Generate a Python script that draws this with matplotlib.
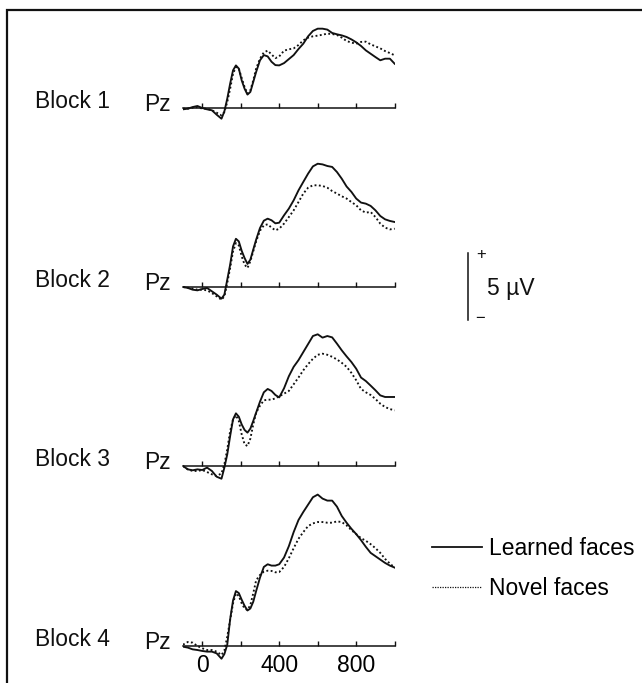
import matplotlib
matplotlib.use("Agg")
import matplotlib.pyplot as plt
from matplotlib.lines import Line2D
from matplotlib.patches import Rectangle
from matplotlib.transforms import blended_transform_factory

plt.rcParams['font.family'] = ['Liberation Sans', 'DejaVu Sans']

# ---------------- data (ms, µV) ----------------
time_ms = [-100, -75, -50, -25, 0, 25, 50, 75, 100,
           115, 130, 145, 160, 175, 190, 205, 220, 235, 250, 265, 280,
           300, 320, 340, 360, 380, 400,
           425, 450, 475, 500, 525, 550, 575, 600, 625, 650, 675, 700,
           725, 750, 775, 800, 825, 850, 875, 900, 925, 950, 975, 1000]

block_labels = ["Block 1", "Block 2", "Block 3", "Block 4"]
electrode = "Pz"
series_labels = ["Learned faces", "Novel faces"]

b1_learned = [-0.1, -0.05, 0.07, 0.15, 0.0, -0.1, -0.17, -0.5, -0.8,
              -0.25, 0.7, 1.82, 2.81, 3.18, 2.94, 2.06, 1.44, 1.0, 1.2, 1.94, 2.69,
              3.56, 3.95, 3.85, 3.45, 3.2, 3.18,
              3.35, 3.65, 3.95, 4.4, 4.8, 5.35, 5.75, 5.92, 5.92, 5.85, 5.6, 5.5,
              5.42, 5.3, 5.12, 4.9, 4.63, 4.3, 4.05, 3.8, 3.56, 3.68, 3.68, 3.3]
b1_novel = [-0.05, -0.05, 0.02, 0.07, -0.05, -0.05, -0.17, -0.35, -0.55,
            -0.3, 0.45, 1.44, 2.56, 3.06, 2.94, 2.24, 1.57, 1.07, 1.32, 2.06, 2.94,
            3.68, 4.15, 4.28, 4.0, 3.72, 3.85,
            4.28, 4.38, 4.45, 4.7, 5.05, 5.25, 5.35, 5.4, 5.47, 5.55, 5.52, 5.45,
            5.25, 5.0, 4.88, 4.8, 4.93, 4.95, 4.75, 4.6, 4.45, 4.25, 4.1, 3.93]

b2_learned = [0.0, -0.07, -0.2, -0.25, -0.15, -0.07, -0.32, -0.57, -0.87,
              -0.57, 0.55, 1.67, 3.03, 3.6, 3.4, 2.7, 2.16, 1.72, 2.04, 2.79, 3.53,
              4.4, 4.95, 5.1, 4.98, 4.75, 4.8,
              5.35, 5.85, 6.47, 7.21, 7.84, 8.46, 9.0, 9.2, 9.15, 9.03, 8.96, 8.58,
              8.08, 7.5, 7.1, 6.6, 6.3, 6.22, 6.05, 5.72, 5.3, 5.05, 4.93, 4.85]
b2_novel = [0.0, -0.05, -0.12, -0.2, -0.2, -0.25, -0.45, -0.7, -0.95,
            -0.7, 0.3, 1.42, 2.66, 3.28, 3.1, 2.29, 1.67, 1.42, 1.92, 2.66, 3.4,
            4.2, 4.6, 4.68, 4.43, 4.23, 4.35,
            4.73, 5.22, 5.72, 6.34, 6.97, 7.41, 7.59, 7.59, 7.54, 7.41, 7.16, 6.97,
            6.77, 6.6, 6.34, 6.1, 5.72, 5.55, 5.6, 5.22, 4.73, 4.43, 4.3, 4.35]

b3_learned = [0.0, -0.25, -0.32, -0.25, -0.3, -0.12, -0.37, -0.8, -0.95,
              -0.12, 0.87, 2.24, 3.48, 3.93, 3.68, 3.1, 2.69, 2.49, 2.79, 3.36, 3.98,
              4.8, 5.5, 5.75, 5.6, 5.3, 5.12,
              5.8, 6.7, 7.4, 7.9, 8.5, 9.1, 9.7, 9.83, 9.58, 9.7, 9.6, 9.13,
              8.63, 8.18, 7.76, 7.26, 6.6, 6.34, 6.0, 5.65, 5.27, 5.15, 5.15, 5.15]
b3_novel = [0.0, -0.25, -0.37, -0.37, -0.3, -0.45, -0.62, -0.75, -0.55,
            0.12, 1.24, 2.61, 3.48, 3.78, 3.36, 2.36, 1.62, 1.49, 2.04, 3.1, 3.98,
            4.5, 4.9, 4.95, 4.95, 5.05, 5.2,
            5.4, 5.6, 6.1, 6.6, 7.14, 7.6, 8.0, 8.3, 8.38, 8.3, 8.15, 7.95,
            7.7, 7.4, 6.95, 6.4, 5.75, 5.5, 5.3, 5.0, 4.65, 4.4, 4.25, 4.15]

b4_learned = [-0.05, -0.12, -0.25, -0.3, -0.37, -0.42, -0.42, -0.55, -0.95,
              -0.6, 0.1, 2.0, 3.4, 4.1, 3.95, 3.45, 3.0, 2.65, 2.8, 3.3, 4.1,
              5.1, 5.9, 6.1, 6.0, 6.0, 6.1,
              6.6, 7.45, 8.5, 9.4, 10.0, 10.55, 11.1, 11.3, 11.0, 10.85, 10.85, 10.4,
              9.7, 9.2, 8.75, 8.35, 7.9, 7.4, 6.95, 6.7, 6.45, 6.2, 6.0, 5.85]
b4_novel = [0.1, 0.3, 0.25, 0.0, -0.17, -0.3, -0.3, -0.42, -0.67,
            -0.35, 0.7, 1.94, 3.18, 3.93, 3.73, 3.18, 2.8, 2.69, 3.06, 3.93, 4.9,
            5.3, 5.55, 5.62, 5.6, 5.5, 5.52,
            5.9, 6.55, 7.3, 8.0, 8.5, 8.95, 9.15, 9.25, 9.25, 9.2, 9.2, 9.3,
            9.25, 9.0, 8.65, 8.35, 8.05, 7.85, 7.6, 7.3, 6.95, 6.5, 6.15, 5.85]

learned = [b1_learned, b2_learned, b3_learned, b4_learned]
novel = [b1_novel, b2_novel, b3_novel, b4_novel]

major_ticks = [0, 400, 800]
minor_ticks = [200, 600, 1000]
scale_uv = 5

# ---------------- layout (pixels) ----------------
W, H = 642, 683
fig = plt.figure(figsize=(W / 100, H / 100), dpi=100)

px_per_uv = 13.4
x_left_px, x_right_px = 183.0, 394.7
ylo, yhi = -1.5, 12.0
baselines_px = [108, 287, 466, 646]

fs = 16.5
for i, base in enumerate(baselines_px):
    bottom_px = base - ylo * px_per_uv
    height_px = (yhi - ylo) * px_per_uv
    ax = fig.add_axes([x_left_px / W, (H - bottom_px) / H,
                       (x_right_px - x_left_px) / W, height_px / H])
    ax.patch.set_alpha(0)
    ax.set_xlim(-100, 1000)
    ax.set_ylim(ylo, yhi)
    ax.plot(time_ms, learned[i], color='#111111', lw=1.35, solid_joinstyle='round')
    ax.plot(time_ms, novel[i], color='#111111', lw=1.35, linestyle=(0, (1.0, 1.3)))
    for s in ['left', 'right', 'top']:
        ax.spines[s].set_visible(False)
    ax.spines['bottom'].set_position(('data', 0))
    ax.spines['bottom'].set_linewidth(1.1)
    ax.spines['bottom'].set_color('#111111')
    ax.set_yticks([])
    ax.set_xticks(major_ticks)
    ax.set_xticks(minor_ticks, minor=True)
    ax.tick_params(axis='x', which='both', direction='in', length=3.5, width=1.0,
                   color='#111111', pad=6, labelsize=fs)
    if i < 3:
        ax.set_xticklabels([])
    tr = blended_transform_factory(fig.transFigure, ax.transData)
    ax.text(35 / W, 0, block_labels[i], transform=tr, fontsize=fs,
            ha='left', va='baseline', color='#111111')
    ax.text(171 / W, -0.25, electrode, transform=tr, fontsize=fs,
            ha='right', va='baseline', color='#111111')

# scale bar
sb = fig.add_axes([468 / W, (H - 320) / H, 0.01, scale_uv * px_per_uv / H])
sb.set_xlim(0, 1)
sb.set_ylim(0, scale_uv)
sb.axis('off')
sb.plot([0, 0], [0, scale_uv], color='#111111', lw=1.1, clip_on=False)
fig.text(481 / W, 1 - 255 / H, "+", fontsize=12, ha='center', va='center', color='#111111')
fig.text(480 / W, 1 - 319 / H, "\u2212", fontsize=12, ha='center', va='center', color='#111111')
fig.text(487 / W, 1 - 295 / H, f"{scale_uv} µV", fontsize=fs, ha='left', va='baseline', color='#111111')

# legend
handles = [Line2D([], [], color='#111111', lw=1.3),
           Line2D([], [], color='#111111', lw=0.9, linestyle=(0, (1.0, 1.0)))]
fig.legend(handles, series_labels, loc='upper left',
           bbox_to_anchor=(432 / W, 1 - 537 / H), frameon=False, fontsize=fs,
           handlelength=2.2, handletextpad=0.3, labelspacing=0.75,
           borderpad=0, borderaxespad=0)

# outer frame
fig.add_artist(Rectangle((7 / W, -0.1), 1.2, 1.1 - 10 / H, transform=fig.transFigure,
                         fill=False, lw=1.6, edgecolor='#111111'))

fig.savefig("out.png", dpi=100)
